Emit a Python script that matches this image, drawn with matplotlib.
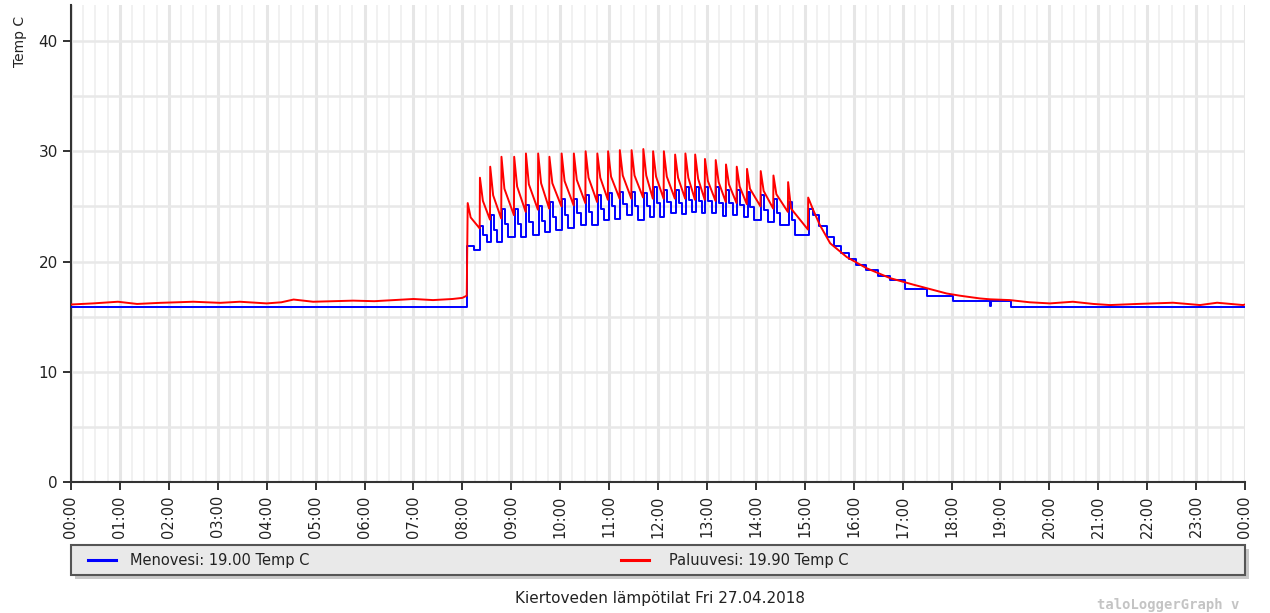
import matplotlib
matplotlib.use("Agg")
import matplotlib.pyplot as plt
from matplotlib.patches import FancyBboxPatch
from matplotlib.lines import Line2D

# hour labels along x
hour_ticks = list(range(25))
hour_labels = ["00:00", "01:00", "02:00", "03:00", "04:00", "05:00", "06:00", "07:00",
               "08:00", "09:00", "10:00", "11:00", "12:00", "13:00", "14:00", "15:00",
               "16:00", "17:00", "18:00", "19:00", "20:00", "21:00", "22:00", "23:00", "00:00"]

# Paluuvesi (red) - night level before heating starts
red_base_t = [0.0, 0.45, 0.96, 1.35, 1.82, 2.5, 3.05, 3.45, 4.0, 4.3, 4.55, 4.95, 5.4, 5.77,
              6.2, 6.6, 7.0, 7.4, 7.8, 8.0, 8.09]
red_base = [16.1, 16.2, 16.35, 16.15, 16.25, 16.35, 16.25, 16.35, 16.2, 16.3, 16.55, 16.35,
            16.4, 16.45, 16.4, 16.5, 16.6, 16.5, 16.6, 16.7, 16.9]

# heating pulses (red), peak times in hours
pulse_t = [8.11, 8.36, 8.57, 8.80, 9.06, 9.30, 9.55, 9.78, 10.03, 10.28, 10.52, 10.76, 10.98,
           11.22, 11.46, 11.70, 11.90, 12.12, 12.35, 12.56, 12.76, 12.96, 13.18, 13.39, 13.61,
           13.82, 14.10, 14.36, 14.66, 15.07]
red_peak = [25.3, 27.6, 28.6, 29.5, 29.5, 29.8, 29.8, 29.5, 29.8, 29.8, 30.0, 29.8, 30.0, 30.1,
            30.1, 30.2, 30.0, 30.0, 29.7, 29.8, 29.7, 29.3, 29.2, 28.8, 28.6, 28.4, 28.2, 27.8,
            27.2, 25.8]
red_knee = [24.0, 25.5, 26.0, 26.6, 26.8, 27.0, 27.1, 27.1, 27.3, 27.4, 27.6, 27.6, 27.7, 27.8,
            27.8, 27.8, 27.7, 27.7, 27.6, 27.6, 27.5, 27.3, 27.2, 27.0, 26.8, 26.6, 26.4, 26.1,
            24.8]
red_trough = [23.0, 23.8, 23.9, 24.2, 24.5, 24.7, 24.8, 25.0, 25.1, 25.3, 25.4, 25.6, 25.7, 25.7,
              25.8, 25.7, 25.7, 25.7, 25.7, 25.6, 25.6, 25.5, 25.4, 25.3, 25.2, 25.0, 24.8, 24.5,
              22.9]

# red cooling after heating stops
red_tail_t = [15.17, 15.31, 15.52, 15.86, 16.26, 16.74, 17.22, 17.9, 18.17, 18.58, 18.79, 19.19,
              19.6, 20.01, 20.48, 20.9, 21.24, 21.8, 22.53, 23.08, 23.43, 23.96, 24.0]
red_tail = [24.7, 23.3, 21.65, 20.4, 19.4, 18.5, 17.9, 17.1, 16.9, 16.65, 16.57, 16.5, 16.3,
            16.2, 16.35, 16.15, 16.05, 16.15, 16.26, 16.05, 16.26, 16.05, 16.1]

# Menovesi (blue), stepped readings
blue_base_t = [0.0, 8.09, 8.1, 8.24, 8.35]
blue_base = [15.9, 15.9, 21.4, 21.0, 21.0]
blue_peak = [23.2, 24.2, 24.8, 24.8, 25.1, 25.0, 25.4, 25.7, 25.7, 26.0, 26.0, 26.2, 26.3, 26.3,
             26.2, 26.8, 26.5, 26.5, 26.8, 26.8, 26.8, 26.8, 26.5, 26.5, 26.3, 26.0, 25.7, 25.4,
             24.8]
blue_mid = [22.4, 22.9, 23.4, 23.4, 23.6, 23.7, 24.0, 24.2, 24.4, 24.5, 24.8, 25.0, 25.2, 25.0,
            25.0, 25.3, 25.4, 25.3, 25.6, 25.5, 25.5, 25.3, 25.3, 25.1, 24.9, 24.7, 24.4, 23.8]
blue_trough = [21.8, 21.8, 22.25, 22.25, 22.4, 22.7, 22.85, 23.0, 23.3, 23.3, 23.75, 23.9, 24.2,
               23.8, 24.0, 24.0, 24.4, 24.3, 24.5, 24.4, 24.4, 24.1, 24.2, 24.0, 23.8, 23.6,
               23.3, 22.4]
blue_tail_t = [15.17, 15.3, 15.45, 15.6, 15.75, 15.9, 16.05, 16.25, 16.5, 16.75, 17.05, 17.5,
               18.03, 18.78, 18.81, 19.21, 24.0]
blue_tail = [24.2, 23.2, 22.2, 21.4, 20.8, 20.2, 19.7, 19.2, 18.7, 18.3, 17.5, 16.9, 16.4, 16.0,
             16.4, 15.9, 15.9]


# assemble red series
rx = list(red_base_t)
ry = list(red_base)
for i in range(len(pulse_t)):
    rx.append(pulse_t[i]); ry.append(red_peak[i])
    if i < len(red_knee):
        rx.append(pulse_t[i] + 0.06); ry.append(red_knee[i])
        rx.append(pulse_t[i + 1] - 0.005); ry.append(red_trough[i])
rx += red_tail_t
ry += red_tail

# assemble blue series (step style)
bx = list(blue_base_t)
by = list(blue_base)
for i in range(len(blue_peak)):
    t = pulse_t[i + 1] + 0.01
    bx.append(t); by.append(blue_peak[i])
    if i < len(blue_trough):
        bx.append(t + 0.06); by.append(blue_mid[i])
        bx.append(t + 0.13); by.append(blue_trough[i])
bx += blue_tail_t
by += blue_tail

fig = plt.figure(figsize=(12.7, 6.13), dpi=100)
ax = fig.add_axes([71 / 1270, 1 - 482 / 613, 1174 / 1270, 477 / 613])

# grid
for h in range(25):
    ax.axvline(h, color="#e6e6e6", lw=2.2, zorder=0)
for q in range(96):
    if q % 4:
        ax.axvline(q / 4, color="#f0f0f0", lw=1.3, zorder=0)
for v in range(5, 45, 5):
    ax.axhline(v, color="#e8e8e8", lw=1.8, zorder=0)

ax.plot(bx, by, color="#0000ff", lw=1.4, drawstyle="steps-post", zorder=3)
ax.plot(rx, ry, color="#ff0000", lw=1.4, zorder=4)

ax.set_xlim(0, 24)
ax.set_ylim(0, 477 / 11.025)
ax.set_yticks([0, 10, 20, 30, 40])
ax.set_xticks(hour_ticks)
ax.set_xticklabels(hour_labels, rotation=90, fontsize=10.5, color="#222222")
ax.tick_params(axis="y", labelsize=11, length=6, width=1.3, colors="#222222")
ax.tick_params(axis="x", length=6, width=1.3, colors="#222222")
for s in ["top", "right"]:
    ax.spines[s].set_visible(False)
for s in ["left", "bottom"]:
    ax.spines[s].set_color("#333333")
    ax.spines[s].set_linewidth(1.5)

fig.text(20 / 1270, 1 - 41 / 613, "Temp C", rotation=90, ha="center", va="center",
         fontsize=10, color="#222222")

# legend box with shadow
shadow = FancyBboxPatch((75 / 1270, 1 - 579 / 613), 1174 / 1270, 30 / 613,
                        boxstyle="square,pad=0", transform=fig.transFigure,
                        facecolor="#c8c8c8", edgecolor="none", zorder=1)
box = FancyBboxPatch((71 / 1270, 1 - 575 / 613), 1174 / 1270, 30 / 613,
                     boxstyle="square,pad=0", transform=fig.transFigure,
                     facecolor="#e9e9e9", edgecolor="#555555", lw=1.5, zorder=2)
fig.add_artist(shadow)
fig.add_artist(box)
ly = 1 - 560 / 613
fig.add_artist(Line2D([88 / 1270, 116 / 1270], [ly, ly], color="#0000ff", lw=2.2, zorder=3))
fig.add_artist(Line2D([621 / 1270, 649 / 1270], [ly, ly], color="#ff0000", lw=2.2, zorder=3))
fig.text(130 / 1270, ly, "Menovesi: 19.00 Temp C", va="center", fontsize=10.5,
         color="#222222", zorder=3)
fig.text(669 / 1270, ly, "Paluuvesi: 19.90 Temp C", va="center", fontsize=10.5,
         color="#222222", zorder=3)

fig.text(660 / 1270, 1 - 598 / 613, "Kiertoveden lämpötilat Fri 27.04.2018", ha="center",
         va="center", fontsize=11, color="#222222")
fig.text(1097 / 1270, 1 - 605 / 613, "taloLoggerGraph v", ha="left", va="center",
         fontsize=10, family="DejaVu Sans Mono", color="#c4c4c4", weight="bold")

fig.savefig("out.png", dpi=100)
